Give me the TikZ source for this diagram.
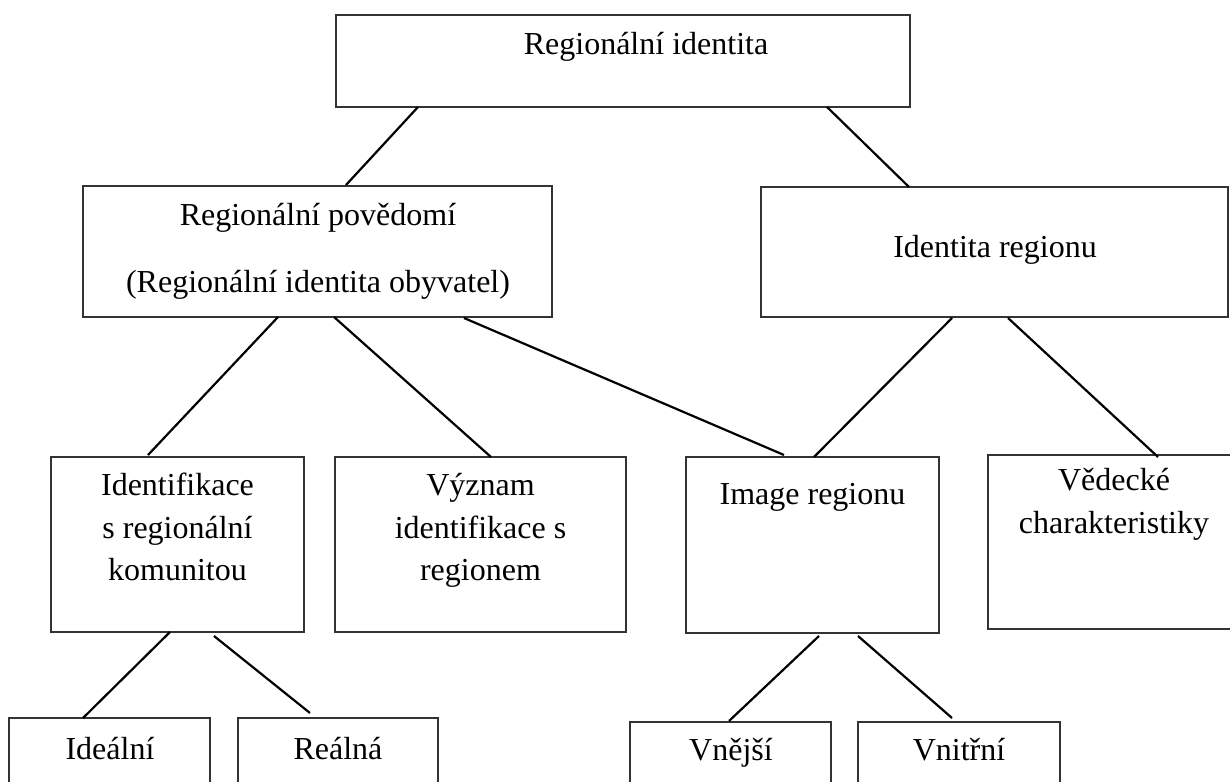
\documentclass[tikz,border=0pt]{standalone}
\usepackage{fontspec}
\setmainfont{Liberation Serif}
\usetikzlibrary{calc,fit}
\begin{document}
\begin{tikzpicture}[x=0.5pt,y=-0.5pt,
  box/.style={draw=black!80,line width=0.6pt,rectangle,inner sep=0pt,outer sep=0pt},
  lbl/.style={anchor=base,inner sep=0pt,font=\fontsize{16}{19}\selectfont},
  conn/.style={draw=black,line width=1.1pt}]
\useasboundingbox (0,0) rectangle (1230,781);
% boxes
\node[box,fit={(336,15) (910,107)}] (top) {};
\node[box,fit={(83,186) (552,317)}] (rp) {};
\node[box,fit={(761,187) (1228,317)}] (ir) {};
\node[box,fit={(51,457) (304,632)}] (idf) {};
\node[box,fit={(335,457) (626,632)}] (vyz) {};
\node[box,fit={(686,457) (939,633)}] (img) {};
\node[box,fit={(988,455) (1242,629)}] (ved) {};
\node[box,fit={(9,718) (210,800)}] (ide) {};
\node[box,fit={(238,718) (438,800)}] (rea) {};
\node[box,fit={(630,722) (831,800)}] (vne) {};
\node[box,fit={(858,722) (1060,800)}] (vni) {};
% texts
\node[lbl] (ttop) at (646,55) {Regionální identita};
\node[lbl] (trp1) at (318,225) {Regionální povědomí};
\node[lbl] (trp2) at (318,292) {(Regionální identita obyvatel)};
\node[lbl] (tir) at (995,257) {Identita regionu};
\node[lbl] (tidf1) at (177.5,495) {Identifikace};
\node[lbl] (tidf2) at (177.5,538) {s regionální};
\node[lbl] (tidf3) at (177.5,580) {komunitou};
\node[lbl] (tvyz1) at (480.5,495) {Význam};
\node[lbl] (tvyz2) at (480.5,538) {identifikace s};
\node[lbl] (tvyz3) at (480.5,580) {regionem};
\node[lbl] (timg) at (812.5,504) {Image regionu};
\node[lbl] (tved1) at (1114,490) {Vědecké};
\node[lbl] (tved2) at (1114,533) {charakteristiky};
\node[lbl] (tide) at (110,759) {Ideální};
\node[lbl] (trea) at (338,759) {Reálná};
\node[lbl] (tvne) at (731,760) {Vnější};
\node[lbl] (tvni) at (959,760) {Vnitřní};
% connectors
\draw[conn] ($(top.south west)+(82,0)$) -- ($(rp.north west)+(263,-1)$);
\draw[conn] ($(top.south west)+(491,0)$) -- ($(ir.north west)+(148,0)$);
\draw[conn] ($(rp.south west)+(195,0)$) -- ($(idf.north west)+(97,-2)$);
\draw[conn] ($(rp.south west)+(251,0)$) -- ($(vyz.north west)+(156,0)$);
\draw[conn] ($(rp.south west)+(381,1)$) -- ($(img.north west)+(98,-2)$);
\draw[conn] ($(ir.south west)+(191,1)$) -- ($(img.north west)+(128,0)$);
\draw[conn] ($(ir.south west)+(247,1)$) -- ($(ved.north west)+(170,2)$);
\draw[conn] ($(idf.south west)+(119,0)$) -- ($(ide.north west)+(74,0)$);
\draw[conn] ($(idf.south west)+(163,4)$) -- ($(rea.north west)+(72,-5)$);
\draw[conn] ($(img.south west)+(133,3)$) -- ($(vne.north west)+(99,-1)$);
\draw[conn] ($(img.south west)+(172,3)$) -- ($(vni.north west)+(94,-4)$);
\end{tikzpicture}
\end{document}
